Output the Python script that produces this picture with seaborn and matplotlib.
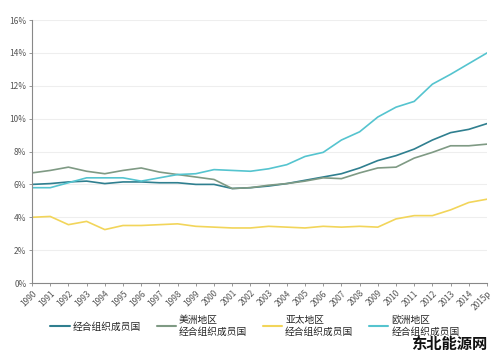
import matplotlib
matplotlib.use("Agg")
import matplotlib.pyplot as plt
import seaborn as sns
import pandas as pd

# 年份
years = [str(y) for y in range(1990, 2015)] + ["2015p"]

# 各地区数值 (%)
oecd = [6.0, 6.05, 6.15, 6.2, 6.05, 6.15, 6.15, 6.1, 6.1, 6.0, 6.0, 5.75, 5.8,
        5.9, 6.05, 6.25, 6.45, 6.65, 7.0, 7.45, 7.75, 8.15, 8.7, 9.15, 9.35, 9.7]
americas = [6.7, 6.85, 7.05, 6.8, 6.65, 6.85, 7.0, 6.75, 6.6, 6.45, 6.3, 5.75, 5.8,
            5.95, 6.05, 6.2, 6.4, 6.35, 6.7, 7.0, 7.05, 7.6, 7.95, 8.35, 8.35, 8.45]
asia = [4.0, 4.05, 3.55, 3.75, 3.25, 3.5, 3.5, 3.55, 3.6, 3.45, 3.4, 3.35, 3.35,
        3.45, 3.4, 3.35, 3.45, 3.4, 3.45, 3.4, 3.9, 4.1, 4.1, 4.45, 4.9, 5.1]
europe = [5.8, 5.8, 6.1, 6.4, 6.4, 6.4, 6.2, 6.4, 6.6, 6.65, 6.9, 6.85, 6.8,
          6.95, 7.2, 7.7, 7.95, 8.7, 9.2, 10.1, 10.7, 11.05, 12.1, 12.7, 13.35, 14.0]

labels = ["经合组织成员国", "美洲地区\n经合组织成员国", "亚太地区\n经合组织成员国", "欧洲地区\n经合组织成员国"]
colors = ["#2f7f8f", "#7f9a84", "#f2d55a", "#55c4cf"]

rows = []
for name, vals in zip(labels, [oecd, americas, asia, europe]):
    for i, v in enumerate(vals):
        rows.append({"year": i, "value": v, "region": name})
df = pd.DataFrame(rows)

sns.set_style("white")
plt.rcParams['font.family'] = ['Noto Sans CJK SC', 'DejaVu Sans']

fig = plt.figure(figsize=(5, 3.52), dpi=100)
ax = fig.add_axes([0.064, 0.196, 0.91, 0.747])

sns.lineplot(data=df, x="year", y="value", hue="region", palette=colors,
             linewidth=1.2, ax=ax, legend=False)

ax.set_xlim(0, len(years) - 1)
ax.set_ylim(0, 16)
ax.set_yticks(range(0, 17, 2))
ax.set_yticklabels([f"{v}%" for v in range(0, 17, 2)], fontsize=6, color="#555555")
ax.set_xticks(range(len(years)))
ax.set_xticklabels(years, rotation=45, ha="right", rotation_mode="anchor",
                   fontsize=6, color="#555555")
ax.tick_params(axis="both", length=2, width=0.6, color="#888888", pad=2)
ax.tick_params(axis="x", bottom=True)
ax.tick_params(axis="y", left=True)
ax.grid(axis="y", color="#eeeeee", linewidth=0.8)
ax.set_xlabel("")
ax.set_ylabel("")
for s in ["top", "right"]:
    ax.spines[s].set_visible(False)
for s in ["left", "bottom"]:
    ax.spines[s].set_color("#888888")
    ax.spines[s].set_linewidth(0.8)

handles = [plt.Line2D([], [], color=c, linewidth=1.5) for c in colors]
fig.legend(handles, labels, loc="center", bbox_to_anchor=(0.51, 0.075), ncol=4,
           frameon=False, fontsize=7, handlelength=2.0, handletextpad=0.3,
           columnspacing=1.6, labelspacing=0.1)

# 水印
fig.text(0.975, 0.022, "东北能源网", ha="right", va="center", fontsize=11,
         fontweight="bold", color="#111111")

fig.savefig("out.png", dpi=100)
